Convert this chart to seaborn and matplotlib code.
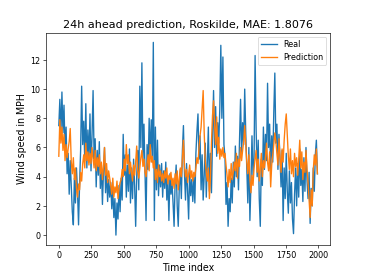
import numpy as np
import pandas as pd
import matplotlib
matplotlib.use("Agg")
import matplotlib.pyplot as plt
import seaborn as sns

time_index = np.arange(0, 2000, 8)

real = [
    7.5, 9.3, 6.8, 9.8, 7.0, 8.9, 5.8, 7.4, 4.2, 5.6,
    2.8, 5.1, 3.4, 1.6, 0.7, 3.9, 2.2, 4.6, 3.0, 0.7,
    3.5, 5.8, 10.2, 6.2, 7.8, 5.1, 9.0, 4.6, 7.2, 5.0,
    8.3, 4.4, 6.9, 9.9, 5.2, 6.6, 3.3, 5.8, 4.1, 6.4,
    3.2, 4.8, 2.1, 4.3, 6.0, 2.9, 4.5, 2.3, 3.8, 2.6,
    3.6, 1.8, 3.1, 1.2, 2.5, 0.0, 2.2, 1.1, 3.4, 1.6,
    3.9, 2.4, 6.9, 4.1, 5.5, 2.6, 4.8, 3.0, 5.9, 2.2,
    4.6, 2.5, 5.2, 3.4, 0.6, 4.0, 5.8, 3.1, 10.2, 6.0,
    11.8, 5.1, 7.6, 4.3, 1.0, 6.2, 4.5, 8.0, 5.3, 7.9,
    5.0, 13.2, 1.0, 7.4, 3.1, 6.5, 2.7, 4.8, 3.3, 4.9,
    2.6, 4.4, 3.2, 5.0, 2.4, 3.9, 1.0, 4.2, 2.8, 3.6,
    2.2, 0.6, 3.6, 4.8, 2.0, 0.6, 3.3, 4.5, 2.5, 5.8,
    7.5, 4.2, 2.4, 4.9, 3.0, 1.1, 4.4, 2.7, 3.8, 2.3,
    4.0, 2.2, 5.6, 7.1, 8.3, 5.2, 6.8, 3.1, 5.5, 2.4,
    4.1, 6.3, 2.6, 5.0, 7.4, 3.0, 5.6, 2.9, 6.6, 9.9,
    6.0, 8.8, 5.4, 7.7, 6.3, 8.6, 13.0, 8.0, 12.2, 6.2,
    5.4, 2.1, 3.6, 0.6, 2.5, 1.6, 3.9, 2.2, 5.0, 3.3,
    6.1, 4.0, 5.4, 3.1, 6.5, 9.3, 5.6, 7.7, 6.2, 10.0,
    7.0, 4.6, 2.2, 6.0, 1.0, 3.5, 6.8, 4.1, 5.3, 12.3,
    7.2, 4.0, 6.5, 2.5, 0.6, 5.2, 3.4, 7.4, 4.5, 6.9,
    5.1, 10.4, 6.0, 7.6, 4.3, 6.8, 5.0, 8.4, 11.1, 6.3,
    7.6, 4.5, 6.9, 5.2, 3.3, 5.8, 1.0, 4.6, 2.5, 5.6,
    3.0, 1.5, 4.4, 2.2, 3.6, 1.1, 0.1, 2.8, 4.6, 2.0,
    4.9, 2.6, 5.9, 3.4, 4.5, 2.3, 5.3, 3.0, 6.0, 3.7,
    2.5, 4.3, 0.8, 3.2, 2.0, 4.6, 3.0, 5.5, 6.5, 4.2,
]

prediction = [
    5.4, 7.9, 6.3, 7.4, 5.8, 6.9, 5.1, 6.2, 5.3, 5.9,
    6.4, 7.3, 5.0, 4.2, 5.3, 3.8, 4.6, 3.2, 2.6, 3.5,
    3.1, 4.3, 3.7, 4.9, 5.5, 4.6, 6.3, 5.1, 5.7, 4.8,
    5.6, 4.9, 6.0, 5.2, 4.6, 5.8, 4.4, 5.3, 4.7, 5.5,
    4.2, 5.0, 3.8, 4.7, 6.0, 4.1, 4.9, 3.6, 4.4, 3.9,
    3.4, 2.8, 3.9, 2.6, 3.3, 2.9, 3.7, 2.5, 3.2, 3.6,
    3.8, 4.5, 4.0, 5.2, 4.4, 6.2, 4.9, 5.5, 4.2, 5.0,
    4.3, 3.7, 4.8, 4.1, 5.0, 6.1, 4.4, 3.9, 4.6, 5.3,
    5.8, 4.7, 5.2, 4.3, 4.0, 4.9, 5.5, 4.4, 6.2, 5.0,
    5.4, 4.6, 5.1, 3.8, 4.5, 3.6, 4.8, 4.0, 4.4, 3.7,
    4.2, 3.6, 4.4, 3.9, 4.6, 3.5, 4.1, 3.8, 4.3, 3.4,
    3.9, 3.2, 4.2, 3.5, 4.4, 3.1, 3.8, 4.6, 4.0, 5.3,
    6.5, 4.7, 4.0, 4.5, 3.6, 4.2, 4.8, 3.9, 4.4, 3.7,
    4.3, 4.0, 4.6, 5.3, 4.9, 6.0, 6.8, 7.4, 8.6, 9.9,
    7.0, 5.1, 4.3, 3.7, 4.6, 2.5, 3.9, 6.4, 8.2, 9.2,
    7.6, 6.2, 8.1, 5.6, 6.7, 5.2, 5.9, 5.4, 6.0, 5.3,
    5.6, 4.8, 4.1, 3.3, 4.5, 3.6, 4.9, 3.8, 4.3, 5.0,
    4.4, 5.6, 3.9, 5.2, 4.7, 6.0, 5.1, 5.8, 6.4, 7.5,
    6.3, 5.0, 4.2, 5.5, 3.8, 2.9, 4.1, 3.4, 4.6, 5.2,
    5.8, 4.3, 5.2, 3.7, 4.5, 5.6, 4.0, 5.1, 4.6, 5.4,
    6.3, 5.0, 4.4, 5.7, 3.3, 4.8, 5.5, 6.2, 7.0, 6.4,
    5.6, 4.8, 6.6, 5.3, 4.3, 5.9, 5.0, 6.5, 7.6, 8.3,
    6.8, 5.4, 4.5, 5.9, 4.2, 5.1, 4.0, 5.6, 4.7, 5.3,
    4.1, 5.2, 6.5, 4.6, 5.7, 3.8, 5.0, 4.3, 5.8, 4.5,
    3.6, 2.4, 1.2, 3.1, 2.0, 4.4, 5.5, 4.8, 5.9, 4.2,
]

df = pd.DataFrame({"time": time_index, "Real": real, "Prediction": prediction})

fig, ax = plt.subplots(figsize=(6.4, 4.8), dpi=57.35)
sns.lineplot(data=df, x="time", y="Real", label="Real", color="tab:blue", lw=1.7, ax=ax)
sns.lineplot(data=df, x="time", y="Prediction", label="Prediction", color="tab:orange", lw=1.7, ax=ax)
ax.set_title("24h ahead prediction, Roskilde, MAE: 1.8076", fontsize=14)
ax.set_xlabel("Time index", fontsize=12)
ax.set_ylabel("Wind speed in MPH", fontsize=12)
ax.legend(loc="upper right")
plt.savefig("out.png")
